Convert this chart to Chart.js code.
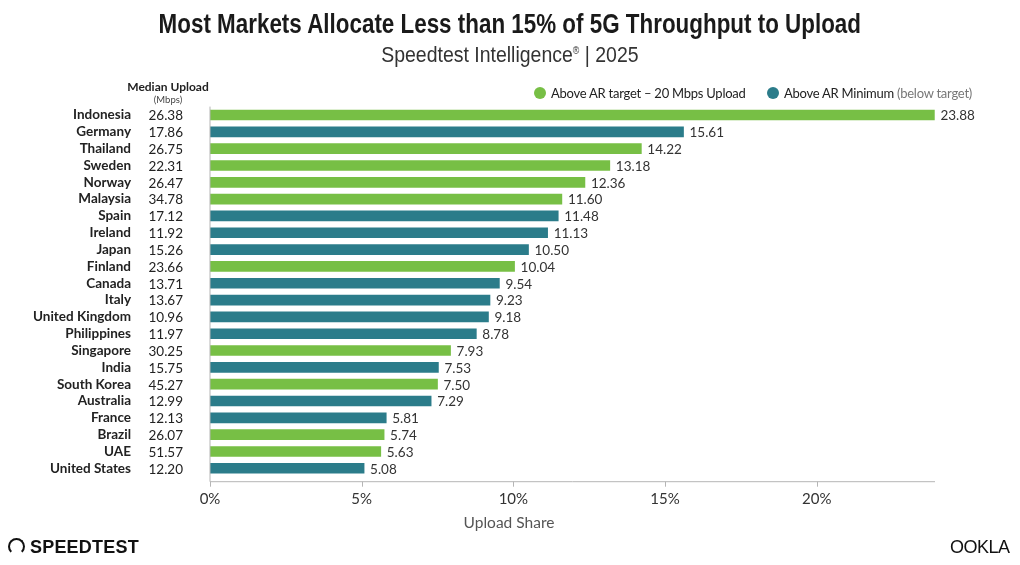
<!DOCTYPE html>
<html>
<head>
<meta charset="utf-8">
<script src="https://cdn.jsdelivr.net/npm/chart.js@4/dist/chart.umd.min.js"></script>
<style>
  html, body { margin: 0; padding: 0; background: #fff; }
  .wrap { position: relative; width: 1020px; height: 565px; overflow: hidden; font-family: Lato, "Noto Sans", sans-serif; color: #222; }
  canvas { position: absolute; left: 0; top: 0; }
  .title { position: absolute; left: 0; width: 1020px; top: 8px; text-align: center; font-family: "Liberation Sans", sans-serif; font-weight: bold; font-size: 28px; color: #1a1a1a; transform: scaleX(0.8); transform-origin: 509px 0; }
  .subtitle { position: absolute; left: 0; width: 1020px; top: 42px; text-align: center; font-family: "Liberation Sans", sans-serif; font-size: 22px; color: #333; transform: scaleX(0.885); transform-origin: 509px 0; }
  .subtitle sup { font-size: 10px; }
  .medhead { position: absolute; left: 118px; width: 100px; top: 79px; text-align: center; font-size: 12px; font-weight: bold; color: #222; }
  .medunit { position: absolute; left: 118px; width: 100px; top: 94px; text-align: center; font-size: 9.5px; color: #444; }
  .legend { position: absolute; top: 85px; font-size: 13px; letter-spacing: -0.25px; color: #222; white-space: nowrap; }
  .legend span.dot { display: inline-block; width: 12px; height: 12px; border-radius: 50%; vertical-align: -1px; margin-right: 5px; }
  .legend .muted { color: #777; }
  .logo { position: absolute; left: 8px; top: 537px; font-family: "Liberation Sans", sans-serif; font-weight: bold; font-size: 18px; color: #111; letter-spacing: 0.2px; }
  .logo .gauge { display: inline-block; width: 13px; height: 13px; border: 2.5px solid #111; border-radius: 50%; border-bottom-color: transparent; vertical-align: -2px; margin-right: 5px; }
  .ookla { position: absolute; left: 950px; top: 537px; font-family: "Liberation Sans", sans-serif; font-size: 18px; color: #111; letter-spacing: -0.5px; }
</style>
</head>
<body>
<div class="wrap">
  <canvas id="chart" width="1020" height="565"></canvas>
  <div class="title">Most Markets Allocate Less than 15% of 5G Throughput to Upload</div>
  <div class="subtitle">Speedtest Intelligence<sup>®</sup> | 2025</div>
  <div class="medhead">Median Upload</div>
  <div class="medunit">(Mbps)</div>
  <div class="legend" style="left:534px"><span class="dot" style="background:#77bf45"></span>Above AR target – 20 Mbps Upload</div>
  <div class="legend" style="left:767px"><span class="dot" style="background:#2b7c8a"></span>Above AR Minimum <span class="muted">(below target)</span></div>
  <div class="logo"><span class="gauge"></span>SPEEDTEST</div>
  <div class="ookla">OOKLA</div>
</div>
<script>
const countries = ['Indonesia', 'Germany', 'Thailand', 'Sweden', 'Norway', 'Malaysia', 'Spain', 'Ireland',
  'Japan', 'Finland', 'Canada', 'Italy', 'United Kingdom', 'Philippines', 'Singapore', 'India',
  'South Korea', 'Australia', 'France', 'Brazil', 'UAE', 'United States'];
const uploadShare = [23.88, 15.61, 14.22, 13.18, 12.36, 11.60, 11.48, 11.13, 10.50, 10.04, 9.54, 9.23,
  9.18, 8.78, 7.93, 7.53, 7.50, 7.29, 5.81, 5.74, 5.63, 5.08];
const medianUpload = [26.38, 17.86, 26.75, 22.31, 26.47, 34.78, 17.12, 11.92, 15.26, 23.66, 13.71, 13.67,
  10.96, 11.97, 30.25, 15.75, 45.27, 12.99, 12.13, 26.07, 51.57, 12.20];
const xTicks = [0, 5, 10, 15, 20];

const GREEN = '#77bf45';
const TEAL = '#2b7c8a';
const AR_TARGET = 20;

const barColors = medianUpload.map(v => v >= AR_TARGET ? GREEN : TEAL);

//value labels, median column, axis line and title
const extras = {
    id: 'extras',
    afterDatasetsDraw(chart) {
        const ctx = chart.ctx;
        const meta = chart.getDatasetMeta(0);
        const yScale = chart.scales.y;
        const xScale = chart.scales.x;
        const area = chart.chartArea;

        ctx.save();
        ctx.font = '13.5px Lato, "Noto Sans", sans-serif';
        ctx.fillStyle = '#333';
        ctx.textBaseline = 'middle';
        ctx.textAlign = 'left';
        meta.data.forEach((bar, i) => {
            ctx.fillText(uploadShare[i].toFixed(2), bar.x + 6, bar.y + 1);
        });

        ctx.textAlign = 'right';
        ctx.fillStyle = '#222';
        medianUpload.forEach((v, i) => {
            ctx.fillText(v.toFixed(2), 183, yScale.getPixelForValue(i) + 1);
        });

        // bottom axis with small ticks
        const axisY = area.bottom + 5;
        ctx.strokeStyle = '#b5b5b5';
        ctx.lineWidth = 1;
        ctx.beginPath();
        ctx.moveTo(area.left, area.top);
        ctx.lineTo(area.left, axisY);
        ctx.lineTo(area.right, axisY);
        ctx.stroke();
        xTicks.forEach(t => {
            const px = Math.round(xScale.getPixelForValue(t)) + 0.5;
            ctx.beginPath();
            ctx.moveTo(px, axisY);
            ctx.lineTo(px, axisY + 5);
            ctx.stroke();
        });

        ctx.font = '15.5px Lato, "Noto Sans", sans-serif';
        ctx.fillStyle = '#555';
        ctx.textAlign = 'center';
        ctx.fillText('Upload Share', 509, 523);
        ctx.restore();
    }
};

new Chart(document.getElementById('chart'), {
    type: 'bar',
    data: {
        labels: countries,
        datasets: [{
            data: uploadShare,
            backgroundColor: barColors,
            barThickness: 10,
            borderWidth: 0,
        }]
    },
    options: {
        indexAxis: 'y',
        responsive: false,
        animation: false,
        devicePixelRatio: 1,
        layout: { padding: { top: 106.6, right: 85, left: 0, bottom: 0 } },
        plugins: {
            legend: { display: false },
            tooltip: { enabled: false },
        },
        scales: {
            x: {
                min: 0,
                max: 23.9,
                grid: { display: false, drawTicks: false },
                border: { display: false },
                afterBuildTicks: scale => {
                    scale.ticks = xTicks.map(v => ({ value: v }));
                },
                afterFit: scale => { scale.height = 565 - 476.7; },
                ticks: {
                    padding: 13,
                    color: '#333',
                    font: { family: 'Lato, "Noto Sans", sans-serif', size: 15 },
                    callback: v => v + '%',
                },
            },
            y: {
                grid: { display: false, drawTicks: false },
                border: { display: false },
                afterFit: scale => { scale.width = 210; },
                ticks: {
                    autoSkip: false,
                    padding: 79,
                    color: '#222',
                    font: { family: 'Lato, "Noto Sans", sans-serif', size: 13.5, weight: 'bold' },
                },
            },
        },
    },
    plugins: [extras],
});
</script>
</body>
</html>
